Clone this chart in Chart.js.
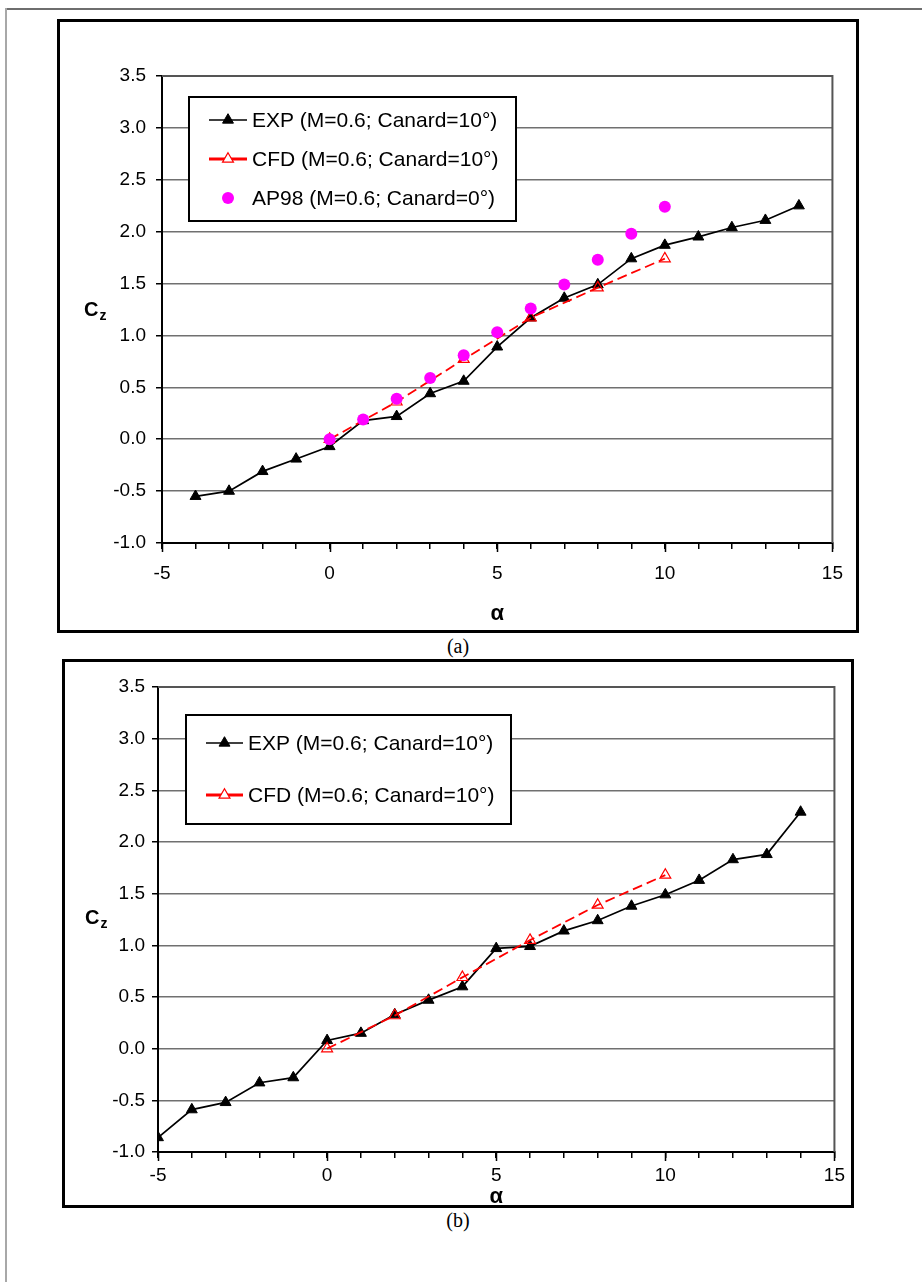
<!DOCTYPE html>
<html>
<head>
<meta charset="utf-8">
<title>Cz vs alpha</title>
<script src="https://cdn.jsdelivr.net/npm/chart.js@4.4.0/dist/chart.umd.min.js"></script>
<style>
    body { margin: 0; background: #fff; width: 922px; height: 1282px; position: relative; overflow: hidden; }
    .frame-top { position: absolute; left: 5px; top: 8px; width: 917px; height: 2px; background: #6e6e6e; }
    .frame-left { position: absolute; left: 5px; top: 8px; width: 2px; height: 1274px; background: #a8a8a8; }
    .box { position: absolute; border: 3px solid #000; box-sizing: border-box; background: #fff; }
    .box canvas { display: block; }
    .caption { position: absolute; width: 100px; text-align: center; font-family: "Liberation Serif", serif; font-size: 20px; color: #000; }
</style>
</head>
<body>
<div class="frame-top"></div>
<div class="frame-left"></div>

<div class="box" style="left:57px; top:19px; width:802px; height:614px;">
    <canvas id="chart-a" width="796" height="608"></canvas>
</div>
<div class="caption" style="left:408px; top:635px;">(a)</div>

<div class="box" style="left:62px; top:659px; width:792px; height:549px;">
    <canvas id="chart-b" width="786" height="543"></canvas>
</div>
<div class="caption" style="left:408px; top:1209px;">(b)</div>

<script>
// Angle of attack values
const expAlphaA = [-4, -3, -2, -1, 0, 1, 2, 3, 4, 5, 6, 7, 8, 9, 10, 11, 12, 13, 14];
const expAlphaB = [-5, -4, -3, -2, -1, 0, 1, 2, 3, 4, 5, 6, 7, 8, 9, 10, 11, 12, 13, 14];
const cfdAlpha = [0, 2, 4, 6, 8, 10];
const ap98Alpha = [0, 1, 2, 3, 4, 5, 6, 7, 8, 9, 10];

// Normal force coefficient, case (a)
const expCzA = [-0.55, -0.50, -0.31, -0.19, -0.07, 0.18, 0.22, 0.44, 0.56, 0.89, 1.17, 1.36, 1.49, 1.74, 1.87, 1.95, 2.04, 2.11, 2.25];
const cfdCzA = [0.00, 0.36, 0.77, 1.17, 1.46, 1.74];
const ap98CzA = [0.00, 0.19, 0.39, 0.59, 0.81, 1.03, 1.26, 1.49, 1.73, 1.98, 2.24];

// Normal force coefficient, case (b)
const expCzB = [-0.86, -0.59, -0.52, -0.33, -0.28, 0.08, 0.15, 0.33, 0.47, 0.60, 0.97, 0.99, 1.14, 1.24, 1.38, 1.49, 1.63, 1.83, 1.88, 2.29];
const cfdCzB = [0.00, 0.32, 0.69, 1.05, 1.39, 1.68];

// Axis ticks
const xLabelled = [-5, 0, 5, 10, 15];
const yRange = [-1.0, 3.5];

// Series names
const expLabel = 'EXP (M=0.6; Canard=10°)';
const cfdLabel = 'CFD (M=0.6; Canard=10°)';
const ap98Label = 'AP98 (M=0.6; Canard=0°)';

const FONT = '"Liberation Sans", Arial, sans-serif';
Chart.defaults.font.family = FONT;
Chart.defaults.color = '#000';

function toPoints(xs, ys) {
    return xs.map((x, i) => ({ x: x, y: ys[i] }));
}

function expSeries(xs, ys) {
    return {
        label: expLabel,
        data: toPoints(xs, ys),
        showLine: true,
        borderColor: '#000',
        borderWidth: 1.7,
        pointStyle: 'triangle',
        pointRadius: 6.3,
        pointBackgroundColor: '#000',
        pointBorderColor: '#000',
        pointBorderWidth: 1,
        legendLineWidth: 1.7,
        order: 3
    };
}

function cfdSeries(xs, ys) {
    return {
        label: cfdLabel,
        data: toPoints(xs, ys),
        showLine: true,
        borderColor: '#ff0000',
        borderWidth: 1.8,
        borderDash: [10, 5],
        pointStyle: 'triangle',
        pointRadius: 6.3,
        pointBackgroundColor: 'rgba(255,255,255,0)',
        pointBorderColor: '#ff0000',
        pointBorderWidth: 1.2,
        legendFill: '#fff',
        legendLineWidth: 3,
        order: 2
    };
}

function ap98Series(xs, ys) {
    return {
        label: ap98Label,
        data: toPoints(xs, ys),
        showLine: false,
        pointStyle: 'circle',
        pointRadius: 6,
        pointBackgroundColor: '#ff00ff',
        pointBorderColor: '#ff00ff',
        pointBorderWidth: 0,
        order: 1
    };
}

// Top and right edges of the plot area, plus longer ticks at labelled alphas
const plotFramePlugin = {
    id: 'plotFrame',
    beforeDatasetsDraw(chart) {
        const { ctx, chartArea: a, scales } = chart;
        ctx.save();
        ctx.strokeStyle = '#555';
        ctx.lineWidth = 2;
        ctx.beginPath();
        ctx.moveTo(a.left, a.top);
        ctx.lineTo(a.right, a.top);
        ctx.lineTo(a.right, a.bottom);
        ctx.stroke();

        ctx.strokeStyle = '#000';
        ctx.lineWidth = 1.5;
        ctx.beginPath();
        xLabelled.forEach((v) => {
            const px = Math.round(scales.x.getPixelForValue(v)) + 0.5;
            ctx.moveTo(px, a.bottom);
            ctx.lineTo(px, a.bottom + 9);
        });
        ctx.stroke();
        ctx.restore();
    }
};

// Boxed legend inside the plot
const legendBoxPlugin = {
    id: 'legendBox',
    afterDatasetsDraw(chart, args, opts) {
        const ctx = chart.ctx;
        ctx.save();
        ctx.fillStyle = '#fff';
        ctx.fillRect(opts.x, opts.y, opts.w, opts.h);
        ctx.strokeStyle = '#000';
        ctx.lineWidth = 2;
        ctx.strokeRect(opts.x, opts.y, opts.w, opts.h);

        ctx.font = opts.fontSize + 'px ' + FONT;
        ctx.textBaseline = 'middle';
        ctx.textAlign = 'left';

        const markX = (opts.lineX0 + opts.lineX1) / 2;
        chart.data.datasets.forEach((ds, i) => {
            const y = opts.rowY[i];
            if (ds.showLine) {
                ctx.strokeStyle = ds.borderColor;
                ctx.lineWidth = ds.legendLineWidth;
                ctx.setLineDash([]);
                ctx.beginPath();
                ctx.moveTo(opts.lineX0, y);
                ctx.lineTo(opts.lineX1, y);
                ctx.stroke();
            }
            ctx.fillStyle = ds.legendFill || ds.pointBackgroundColor;
            ctx.strokeStyle = ds.pointBorderColor;
            ctx.lineWidth = ds.pointBorderWidth;
            Chart.helpers.drawPoint(ctx, {
                pointStyle: ds.pointStyle,
                radius: ds.pointRadius,
                rotation: 0,
                borderWidth: ds.pointBorderWidth
            }, markX, y);
            ctx.fillStyle = '#000';
            ctx.fillText(ds.label, opts.textX, y + 1);
        });
        ctx.restore();
    }
};

// Cz on the left, alpha below the x axis
const axisTitlesPlugin = {
    id: 'axisTitles',
    afterDraw(chart, args, opts) {
        const { ctx, chartArea: a } = chart;
        ctx.save();
        ctx.fillStyle = '#000';
        ctx.textBaseline = 'middle';
        ctx.textAlign = 'left';
        ctx.font = 'bold 20px ' + FONT;
        ctx.fillText('C', opts.czX, opts.czY);
        const w = ctx.measureText('C').width;
        ctx.font = 'bold 14px ' + FONT;
        ctx.fillText('z', opts.czX + w + 1, opts.czY + 6);

        ctx.textAlign = 'center';
        ctx.font = 'bold 22px ' + FONT;
        ctx.fillText('α', (a.left + a.right) / 2, a.bottom + opts.alphaDy);
        ctx.restore();
    }
};

function buildChart(canvasId, datasets, layout) {
    const ctx = document.getElementById(canvasId);
    return new Chart(ctx, {
        type: 'scatter',
        data: { datasets: datasets },
        options: {
            responsive: false,
            animation: false,
            devicePixelRatio: 1,
            events: [],
            layout: { padding: layout.padding },
            plugins: {
                legend: { display: false },
                tooltip: { enabled: false },
                legendBox: layout.legend,
                axisTitles: layout.titles
            },
            scales: {
                x: {
                    type: 'linear',
                    min: -5,
                    max: 15,
                    afterFit: (scale) => { scale.height = layout.xHeight; },
                    border: { color: '#000', width: 2 },
                    grid: {
                        drawOnChartArea: false,
                        tickColor: '#000',
                        tickLength: 6,
                        lineWidth: 1.5
                    },
                    ticks: {
                        stepSize: 1,
                        autoSkip: false,
                        maxRotation: 0,
                        padding: layout.xTickPad,
                        font: { size: 19 },
                        callback: (v) => xLabelled.includes(v) ? String(v) : ''
                    }
                },
                y: {
                    type: 'linear',
                    min: yRange[0],
                    max: yRange[1],
                    afterFit: (scale) => { scale.width = layout.yWidth; },
                    border: { color: '#000', width: 2 },
                    grid: {
                        color: '#707070',
                        lineWidth: 1.5,
                        tickColor: '#000',
                        tickLength: 6
                    },
                    ticks: {
                        stepSize: 0.5,
                        padding: layout.yTickPad,
                        font: { size: 19 },
                        callback: (v) => v.toFixed(1)
                    }
                }
            }
        },
        plugins: [plotFramePlugin, legendBoxPlugin, axisTitlesPlugin]
    });
}

// (a) EXP, CFD and AP98
buildChart('chart-a', [
    expSeries(expAlphaA, expCzA),
    cfdSeries(cfdAlpha, cfdCzA),
    ap98Series(ap98Alpha, ap98CzA)
], {
    padding: { top: 54, right: 18, left: 0, bottom: 0 },
    yWidth: 102,
    xHeight: 87,
    yTickPad: 10,
    xTickPad: 13,
    legend: {
        x: 129, y: 75, w: 327, h: 124,
        rowY: [98, 137, 176],
        lineX0: 149, lineX1: 187, textX: 192,
        fontSize: 21
    },
    titles: { czX: 24, czY: 288, alphaDy: 71 }
});

// (b) EXP and CFD
buildChart('chart-b', [
    expSeries(expAlphaB, expCzB),
    cfdSeries(cfdAlpha, cfdCzB)
], {
    padding: { top: 25, right: 16, left: 0, bottom: 0 },
    yWidth: 93,
    xHeight: 53,
    yTickPad: 7,
    xTickPad: 6,
    legend: {
        x: 121, y: 53, w: 325, h: 109,
        rowY: [81, 133],
        lineX0: 141, lineX1: 178, textX: 183,
        fontSize: 21
    },
    titles: { czX: 20, czY: 256, alphaDy: 45 }
});
</script>
</body>
</html>
